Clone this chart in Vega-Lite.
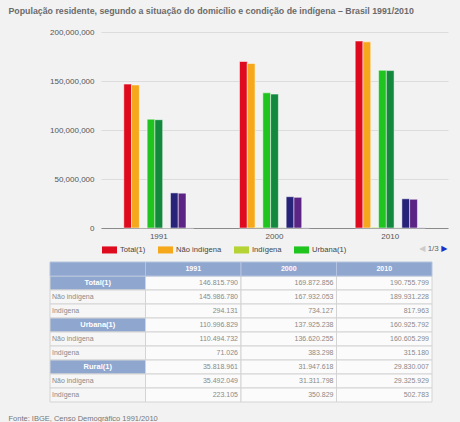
{
  "$schema": "https://vega.github.io/schema/vega-lite/v6.json",
  "background": "#f2f2f2",
  "padding": {"left": 8, "top": 7, "right": 0, "bottom": 0},
  "title": {"text": "População residente, segundo a situação do domicílio e condição de indígena – Brasil 1991/2010", "anchor": "start", "fontSize": 8.8, "font": "Liberation Sans", "fontWeight": "bold", "color": "#6b6b6b", "offset": 12},
  "config": {"font": "Liberation Sans", "view": {"stroke": null}},
  "spacing": 8,
  "datasets": {
    "pop": [
      {"ano": "1991", "serie": "Total(1)", "rotulo": "Total(1)", "valor": 146815790},
      {"ano": "1991", "serie": "Não indígena", "rotulo": "Não indígena", "valor": 145986780},
      {"ano": "1991", "serie": "Indígena", "rotulo": "Indígena", "valor": 294131},
      {"ano": "1991", "serie": "Urbana(1)", "rotulo": "Urbana(1)", "valor": 110996829},
      {"ano": "1991", "serie": "Urbana – Não indígena", "rotulo": "Não indígena", "valor": 110494732},
      {"ano": "1991", "serie": "Urbana – Indígena", "rotulo": "Indígena", "valor": 71026},
      {"ano": "1991", "serie": "Rural(1)", "rotulo": "Rural(1)", "valor": 35818961},
      {"ano": "1991", "serie": "Rural – Não indígena", "rotulo": "Não indígena", "valor": 35492049},
      {"ano": "1991", "serie": "Rural – Indígena", "rotulo": "Indígena", "valor": 223105},
      {"ano": "2000", "serie": "Total(1)", "rotulo": "Total(1)", "valor": 169872856},
      {"ano": "2000", "serie": "Não indígena", "rotulo": "Não indígena", "valor": 167932053},
      {"ano": "2000", "serie": "Indígena", "rotulo": "Indígena", "valor": 734127},
      {"ano": "2000", "serie": "Urbana(1)", "rotulo": "Urbana(1)", "valor": 137925238},
      {"ano": "2000", "serie": "Urbana – Não indígena", "rotulo": "Não indígena", "valor": 136620255},
      {"ano": "2000", "serie": "Urbana – Indígena", "rotulo": "Indígena", "valor": 383298},
      {"ano": "2000", "serie": "Rural(1)", "rotulo": "Rural(1)", "valor": 31947618},
      {"ano": "2000", "serie": "Rural – Não indígena", "rotulo": "Não indígena", "valor": 31311798},
      {"ano": "2000", "serie": "Rural – Indígena", "rotulo": "Indígena", "valor": 350829},
      {"ano": "2010", "serie": "Total(1)", "rotulo": "Total(1)", "valor": 190755799},
      {"ano": "2010", "serie": "Não indígena", "rotulo": "Não indígena", "valor": 189931228},
      {"ano": "2010", "serie": "Indígena", "rotulo": "Indígena", "valor": 817963},
      {"ano": "2010", "serie": "Urbana(1)", "rotulo": "Urbana(1)", "valor": 160925792},
      {"ano": "2010", "serie": "Urbana – Não indígena", "rotulo": "Não indígena", "valor": 160605299},
      {"ano": "2010", "serie": "Urbana – Indígena", "rotulo": "Indígena", "valor": 315180},
      {"ano": "2010", "serie": "Rural(1)", "rotulo": "Rural(1)", "valor": 29830007},
      {"ano": "2010", "serie": "Rural – Não indígena", "rotulo": "Não indígena", "valor": 29325929},
      {"ano": "2010", "serie": "Rural – Indígena", "rotulo": "Indígena", "valor": 502783}
    ]
  },
  "vconcat": [
    {
      "width": 347,
      "height": 196,
      "layer": [
        {
          "data": {"name": "pop"},
          "mark": {"type": "bar", "stroke": "#ffffff", "strokeWidth": 0.5},
          "encoding": {
            "x": {"field": "ano", "type": "nominal", "scale": {"paddingInner": 0.395, "paddingOuter": 0.197},
                  "axis": {"title": null, "labelAngle": 0, "ticks": false, "domainColor": "#8a8a8a", "labelFontSize": 8, "labelColor": "#555555", "labelPadding": 4}},
            "xOffset": {"field": "serie", "type": "nominal",
                        "sort": ["Total(1)", "Não indígena", "Indígena", "Urbana(1)", "Urbana – Não indígena", "Urbana – Indígena", "Rural(1)", "Rural – Não indígena", "Rural – Indígena"],
                        "scale": {"paddingInner": 0, "paddingOuter": 0}},
            "y": {"field": "valor", "type": "quantitative", "scale": {"domain": [0, 200000000]},
                  "axis": {"title": null, "values": [0, 50000000, 100000000, 150000000, 200000000], "format": ",d", "domain": false, "ticks": false, "gridColor": "#dcdcdc", "labelFontSize": 8, "labelColor": "#555555", "labelPadding": 7}},
            "color": {"field": "serie", "type": "nominal",
                      "scale": {"domain": ["Total(1)", "Não indígena", "Indígena", "Urbana(1)", "Urbana – Não indígena", "Urbana – Indígena", "Rural(1)", "Rural – Não indígena", "Rural – Indígena"],
                                "range": ["#de0a1d", "#f5a81c", "#b5d334", "#1fc41f", "#12893c", "#6f9b2e", "#262379", "#5c2484", "#9b6fb8"]},
                      "legend": {"values": ["Total(1)", "Não indígena", "Indígena", "Urbana(1)"], "orient": "none", "legendX": 1, "legendY": 210, "direction": "horizontal", "title": null,
                                 "symbolType": "M-1,-0.47H1V0.47H-1Z", "symbolSize": 225, "symbolStrokeWidth": 0, "symbolOpacity": 1,
                                 "labelFontSize": 7.6, "labelColor": "#444444", "columnPadding": 12, "labelOffset": 3}}
          }
        },
        {
          "data": {"values": [{"ano": "2010"}]},
          "mark": {"type": "text", "text": "◀", "font": "DejaVu Sans", "fontSize": 8, "color": "#cccccc", "dx": 32, "dy": 21},
          "encoding": {"x": {"field": "ano", "type": "nominal"}, "y": {"datum": 0, "type": "quantitative"}}
        },
        {
          "data": {"values": [{"ano": "2010"}]},
          "mark": {"type": "text", "text": "1/3", "fontSize": 8, "color": "#666666", "dx": 43, "dy": 21},
          "encoding": {"x": {"field": "ano", "type": "nominal"}, "y": {"datum": 0, "type": "quantitative"}}
        },
        {
          "data": {"values": [{"ano": "2010"}]},
          "mark": {"type": "text", "text": "▶", "font": "DejaVu Sans", "fontSize": 8, "color": "#1a2fc8", "dx": 54, "dy": 21},
          "encoding": {"x": {"field": "ano", "type": "nominal"}, "y": {"datum": 0, "type": "quantitative"}}
        }
      ]
    },
    {
      "width": 382,
      "height": 140,
      "data": {"name": "pop"},
      "title": {"text": "Fonte: IBGE, Censo Demográfico 1991/2010", "orient": "bottom", "anchor": "start", "dx": -41, "fontSize": 7.5, "fontWeight": "normal", "color": "#777777", "offset": 12},
      "encoding": {
        "x": {"field": "ano", "type": "nominal", "scale": {"domain": ["lab", "1991", "2000", "2010"], "range": [-51, 331], "paddingInner": 0, "paddingOuter": 0}, "axis": null},
        "y": {"field": "serie", "type": "nominal", "scale": {"domain": ["cab", "Total(1)", "Não indígena", "Indígena", "Urbana(1)", "Urbana – Não indígena", "Urbana – Indígena", "Rural(1)", "Rural – Não indígena", "Rural – Indígena"], "paddingInner": 0, "paddingOuter": 0}, "axis": null}
      },
      "layer": [
        {"mark": {"type": "rect", "fill": "#fbfbfb", "stroke": "#d4d4d4", "strokeWidth": 1}},
        {
          "transform": [{"filter": "datum.ano == '1991'"}],
          "mark": {"type": "rect", "stroke": "#d4d4d4", "strokeWidth": 1},
          "encoding": {
            "x": {"datum": "lab", "type": "nominal"},
            "fill": {"condition": {"test": "indexof(['Total(1)','Urbana(1)','Rural(1)'], datum.serie) >= 0", "value": "#8fa6cf"}, "value": "#f6f6f6"}
          }
        },
        {
          "transform": [{"filter": "datum.serie == 'Total(1)'"}],
          "mark": {"type": "rect", "fill": "#8fa6cf", "stroke": "#b4c3df", "strokeWidth": 1},
          "encoding": {"y": {"datum": "cab", "type": "nominal"}}
        },
        {
          "transform": [{"filter": "datum.serie == 'Total(1)' && datum.ano == '1991'"}],
          "mark": {"type": "rect", "fill": "#8fa6cf", "stroke": "#b4c3df", "strokeWidth": 1},
          "encoding": {"x": {"datum": "lab", "type": "nominal"}, "y": {"datum": "cab", "type": "nominal"}}
        },
        {
          "transform": [{"calculate": "replace(replace(format(datum.valor, ',d'), ',', '.'), ',', '.')", "as": "txt"}],
          "mark": {"type": "text", "align": "right", "dx": -3, "fontSize": 7, "color": "#8a8a8a"},
          "encoding": {"x": {"field": "ano", "type": "nominal", "bandPosition": 1}, "text": {"field": "txt"}}
        },
        {
          "transform": [{"filter": "datum.serie == 'Total(1)'"}],
          "mark": {"type": "text", "align": "center", "fontSize": 7, "fontWeight": "bold", "color": "#ffffff"},
          "encoding": {"y": {"datum": "cab", "type": "nominal"}, "text": {"field": "ano"}}
        },
        {
          "transform": [{"filter": "datum.ano == '1991' && indexof(['Total(1)','Urbana(1)','Rural(1)'], datum.serie) < 0"}],
          "mark": {"type": "text", "align": "left", "dx": 2, "fontSize": 7, "color": "#8a8a8a"},
          "encoding": {"x": {"datum": "lab", "type": "nominal", "bandPosition": 0}, "text": {"field": "rotulo"}}
        },
        {
          "transform": [{"filter": "datum.ano == '1991' && indexof(['Total(1)','Urbana(1)','Rural(1)'], datum.serie) >= 0"}],
          "mark": {"type": "text", "align": "center", "fontSize": 7.5, "fontWeight": "bold", "color": "#ffffff"},
          "encoding": {"x": {"datum": "lab", "type": "nominal"}, "text": {"field": "rotulo"}}
        }
      ]
    }
  ]
}
